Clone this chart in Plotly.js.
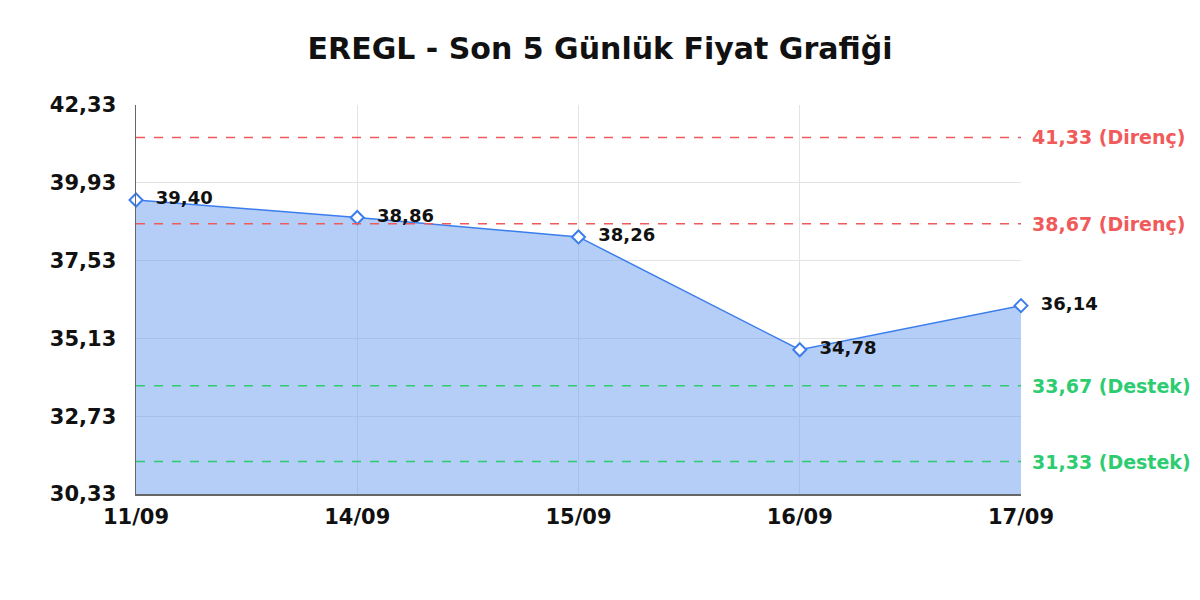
<!DOCTYPE html>
<html>
<head>
<meta charset="utf-8">
<script src="https://cdn.plot.ly/plotly-3.0.1.min.js"></script>
<style>
  body { margin: 0; background: #fff; }
  #chart { width: 1200px; height: 600px; }
</style>
</head>
<body>
<div id="chart"></div>
<script>
var days = ['11/09', '14/09', '15/09', '16/09', '17/09'];
var prices = [39.40, 38.86, 38.26, 34.78, 36.14];
var resistance = [41.33, 38.67];
var support = [33.67, 31.33];
var yTicks = [30.33, 32.73, 35.13, 37.53, 39.93, 42.33];

function fmt(v) {
    return v.toFixed(2).replace('.', ',');
}

var font = "'DejaVu Sans'";

var priceTrace = {
    type: 'scatter',
    x: days,
    y: prices,
    mode: 'lines+markers+text',
    fill: 'tozeroy',
    fillcolor: 'rgba(120,165,240,0.55)',
    line: { color: '#3b7ded', width: 1.5 },
    marker: { symbol: 'diamond', size: 10, color: '#ffffff', line: { color: '#3b7ded', width: 2 } },
    text: prices.map(function (p) { return '  ' + fmt(p); }),
    textposition: 'middle right',
    textfont: { family: font, size: 18, color: '#111', weight: 'bold' },
    cliponaxis: false,
    hoverinfo: 'skip'
};

var shapes = [];
var annotations = [];

// Direnç (red) and Destek (green) levels
resistance.forEach(function (v) {
    shapes.push({ type: 'line', xref: 'paper', x0: 0, x1: 1, yref: 'y', y0: v, y1: v,
        line: { color: '#f05a5a', width: 1.5, dash: 'dash' } });
    annotations.push({ xref: 'paper', x: 1, xanchor: 'left', xshift: 9, yref: 'y', y: v,
        text: fmt(v) + ' (Direnç)', showarrow: false,
        font: { family: font, size: 19, color: '#f05a5a', weight: 'bold' } });
});
support.forEach(function (v) {
    shapes.push({ type: 'line', xref: 'paper', x0: 0, x1: 1, yref: 'y', y0: v, y1: v,
        line: { color: '#2ecc71', width: 1.5, dash: 'dash' } });
    annotations.push({ xref: 'paper', x: 1, xanchor: 'left', xshift: 9, yref: 'y', y: v,
        text: fmt(v) + ' (Destek)', showarrow: false,
        font: { family: font, size: 19, color: '#2ecc71', weight: 'bold' } });
});

var layout = {
    width: 1200,
    height: 600,
    margin: { l: 136, r: 179, t: 105, b: 106 },
    paper_bgcolor: '#fff',
    plot_bgcolor: '#fff',
    showlegend: false,
    separators: ', ',
    title: {
        text: 'EREGL - Son 5 Günlük Fiyat Grafiği',
        x: 0.5, xanchor: 'center', y: 0.92, yanchor: 'middle',
        font: { family: font, size: 30, color: '#111', weight: 'bold' }
    },
    xaxis: {
        type: 'category',
        range: [0, 4],
        showgrid: true,
        gridcolor: '#e3e3e3',
        showline: true,
        linecolor: '#666',
        linewidth: 1.5,
        zeroline: false,
        ticks: '',
        tickfont: { family: font, size: 21, color: '#111', weight: 'bold' },
        ticklabelstandoff: 3
    },
    yaxis: {
        range: [30.33, 42.33],
        tickvals: yTicks,
        ticktext: yTicks.map(fmt),
        showgrid: true,
        gridcolor: '#e3e3e3',
        showline: true,
        linecolor: '#666',
        linewidth: 1.5,
        zeroline: false,
        ticks: '',
        ticklabelstandoff: 14,
        tickfont: { family: font, size: 21, color: '#111', weight: 'bold' }
    },
    shapes: shapes,
    annotations: annotations
};

Plotly.newPlot('chart', [priceTrace], layout, { displayModeBar: false, staticPlot: true });
</script>
</body>
</html>
